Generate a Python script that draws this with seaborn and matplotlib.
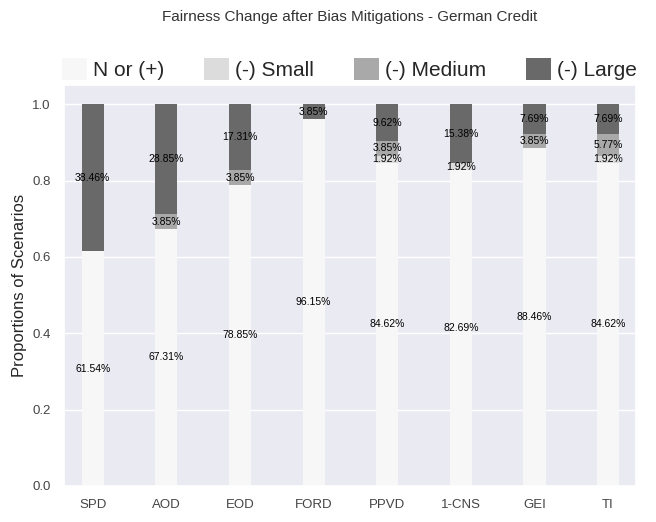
import numpy as np
import pandas as pd
import matplotlib
matplotlib.use("Agg")
import matplotlib.pyplot as plt
import seaborn as sns
from matplotlib.patches import Patch

# --- data (percent of scenarios) ---
metrics = ['SPD', 'AOD', 'EOD', 'FORD', 'PPVD', '1-CNS', 'GEI', 'TI']
n_or_pos = [61.54, 67.31, 78.85, 96.15, 84.62, 82.69, 88.46, 84.62]
small = [0.0, 0.0, 0.0, 0.0, 1.92, 1.92, 0.0, 1.92]
medium = [0.0, 3.85, 3.85, 0.0, 3.85, 0.0, 3.85, 5.77]
large = [38.46, 28.85, 17.31, 3.85, 9.62, 15.38, 7.69, 7.69]

cat_names = ['N or (+)', '(-) Small', '(-) Medium', '(-) Large']
cat_colors = ['#f7f7f7', 'gainsboro', 'darkgray', 'dimgray']

df = pd.DataFrame({'metric': metrics, 'n': n_or_pos, 's': small,
                   'm': medium, 'l': large})
for c in ['n', 's', 'm', 'l']:
    df[c] = df[c] / 100.0
df['c1'] = df['n']
df['c2'] = df['c1'] + df['s']
df['c3'] = df['c2'] + df['m']
df['c4'] = df['c3'] + df['l']

sns.set_theme(style='darkgrid')
plt.rcParams['font.family'] = ['Liberation Sans', 'DejaVu Sans']

fig = plt.figure(figsize=(6.56, 5.22), dpi=100)
ax = fig.add_axes([0.0976, 0.069, 0.872, 0.768])

# stacked look: draw cumulative totals from tallest to shortest
for col, color in zip(['c4', 'c3', 'c2', 'c1'], cat_colors[::-1]):
    sns.barplot(data=df, x='metric', y=col, color=color, width=0.3,
                saturation=1, linewidth=0, edgecolor='none', ax=ax, zorder=2)

# percentage labels at the middle of each segment
for i, row in df.iterrows():
    bottom = 0.0
    for seg in ['n', 's', 'm', 'l']:
        v = row[seg]
        if v > 0:
            ax.text(i, bottom + v / 2, f'{v * 100:.2f}%', ha='center',
                    va='center', fontsize=7.5, color='black', zorder=3)
        bottom += v

ax.set_xlim(-0.39, 7.38)
ax.set_ylim(0, 1.05)
ax.set_yticks([0.0, 0.2, 0.4, 0.6, 0.8, 1.0])
ax.set_xlabel('')
ax.set_ylabel('Proportions of Scenarios', fontsize=12)
ax.tick_params(labelsize=9.5, colors='#444444')

handles = [Patch(facecolor=c, edgecolor='none') for c in cat_colors]
ax.legend(handles, cat_names, loc='center',
          bbox_to_anchor=(-0.004, 1.0, 1.006, 0.08),
          mode='expand', ncol=4, frameon=False, fontsize=15, borderaxespad=0,
          borderpad=0, handlelength=1.2, handleheight=1.2, handletextpad=0.3)

ax.set_title('Fairness Change after Bias Mitigations - German Credit',
             fontsize=11, color='#333333', y=1.16, pad=0)

fig.savefig('out.png', dpi=100)
